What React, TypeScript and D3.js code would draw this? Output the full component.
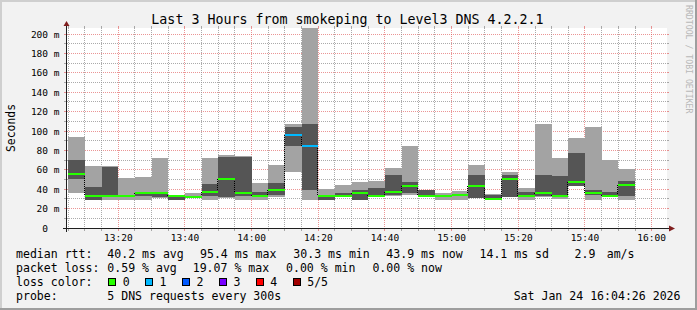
import React from "react";
import * as d3 from "d3";

// ---------- data ----------
const barEndTimes = ["13:10","13:15","13:20","13:25","13:30","13:35","13:40","13:45","13:50","13:55","14:00","14:05","14:10","14:15","14:20","14:25","14:30","14:35","14:40","14:45","14:50","14:55","15:00","15:05","15:10","15:15","15:20","15:25","15:30","15:35","15:40","15:45","15:50","15:55"];
const pingMin = [35.7,28.5,28.5,28.5,28.5,31.0,28.5,31.5,28.5,31.0,28.5,28.5,31.6,57.4,28.5,28.5,31.6,28.5,31.6,32.6,34.0,32.0,28.5,28.5,30.8,28.5,32.0,28.5,32.3,29.6,43.0,28.5,31.5,28.5];
const ping2 = [50.9,28.6,32.0,31.8,33.0,31.6,28.7,31.8,32.5,32.0,32.5,31.8,33.7,84.2,39.5,28.6,32.0,28.6,32.0,34.4,36.0,32.2,32.0,33.0,30.9,28.8,32.3,31.6,32.6,32.0,43.2,33.7,31.6,32.6];
const pingMed = [55.3,32.6,32.6,32.6,35.7,35.6,32.5,32.2,36.7,51.0,35.7,32.6,38.8,95.4,85.0,32.6,32.6,35.7,32.6,36.8,43.0,32.6,32.6,33.7,43.0,30.3,50.9,32.6,35.7,32.6,47.1,35.7,32.6,43.9];
const ping4 = [70.4,42.6,62.5,33.4,37.0,36.5,33.0,32.8,45.8,72.9,73.3,36.8,46.0,104.5,107.4,34.4,36.2,39.5,41.2,55.0,47.0,39.2,33.2,34.5,54.3,34.4,55.0,37.5,55.0,54.0,77.7,39.5,36.8,48.8];
const pingMax = [94.2,64.3,63.5,51.9,52.9,72.4,33.5,35.9,72.5,75.6,74.0,46.0,64.5,107.2,215,40.4,44.7,47.8,48.8,62.2,84.2,39.5,35.7,38.5,65.3,34.6,58.0,41.6,107.6,72.5,93.1,104.5,70.4,61.2];
const lossCount = [0,0,0,0,0,0,0,0,0,0,0,0,0,1,1,0,0,0,0,0,0,0,0,0,0,0,0,0,0,0,0,0,0,0];

const yTickValues = [0,20,40,60,80,100,120,140,160,180,200];
const xTickLabels = ["13:20","13:40","14:00","14:20","14:40","15:00","15:20","15:40","16:00"];
const lossLabels = ["0","1","2","3","4","5/5"];
const lossColors = ["#26ff00","#00b8ff","#0059ff","#7800ff","#ff0000","#a10000"];

const titleText = "Last 3 Hours from smokeping to Level3 DNS 4.2.2.1";
const rttItems = ["median rtt:", "40.2 ms avg", "95.4 ms max", "30.3 ms min", "43.9 ms now", "14.1 ms sd", "2.9", "am/s"];
const lossItems = ["packet loss:", "0.59 % avg", "19.07 % max", "0.00 % min", "0.00 % now"];
const probeItems = ["probe:", "5 DNS requests every 300s"];
const stampText = "Sat Jan 24 16:04:26 2026";

// ---------- layout ----------
const W = 697, H = 310;
const X0 = 67, X1 = 667, YB = 228, YT = 28;
const MONO = "'DejaVu Sans Mono', monospace";
const parseT = (s: string) => { const [h, m] = s.split(":").map(Number); return h * 60 + m; };
const tStart = 13 * 60 + 4 + 36 / 60;
const tEnd = tStart + 180;

export default function App() {
  const x = d3.scaleLinear().domain([tStart, tEnd]).range([X0, X1]);
  const yMax = 206.2;
  const y = d3.scaleLinear().domain([0, yMax]).range([YB, YT]);
  const yc = (v: number) => Math.round(y(Math.min(v, yMax)));

  const bars = barEndTimes.map((s, i) => {
    const t1 = parseT(s);
    const t0 = Math.max(t1 - 5, tStart);
    return { i, px0: Math.round(x(t0)), px1: Math.round(x(t1)) };
  });

  const gridTimes = d3.range(Math.ceil(tStart / 5) * 5, tEnd, 5);
  const hGrid = d3.range(10, yMax, 10);
  const minorCol = "rgba(143,143,143,0.75)";
  const majorCol = "rgba(222,79,79,0.6)";

  const rttX = [16, 107.3, 200, 293.3, 386.3, 479.5, 574.5, 606.7];
  const lossX = [16, 107.3, 192.7, 286, 372.4];

  return (
    <svg width={W} height={H} style={{ position: "absolute", left: 0, top: 0 }} xmlns="http://www.w3.org/2000/svg">
      <defs>
        <clipPath id="plot"><rect x={X0} y={YT} width={X1 - X0} height={YB - YT} /></clipPath>
      </defs>
      <rect x={0} y={0} width={W} height={H} fill="#f2f2f2" />
      {/* shade frame */}
      <rect x={0} y={0} width={W} height={2} fill="#cfcfcf" />
      <rect x={0} y={0} width={2} height={H} fill="#cfcfcf" />
      <rect x={0} y={H - 2} width={W} height={2} fill="#9e9e9e" />
      <rect x={W - 2} y={0} width={2} height={H} fill="#9e9e9e" />
      {/* canvas */}
      <rect x={X0} y={YT} width={X1 - X0} height={YB - YT} fill="#ffffff" />

      {/* grid */}
      <g shapeRendering="crispEdges">
        {hGrid.map(v => {
          const yy = Math.floor(y(v)) + 0.5;
          const major = v % 20 === 0;
          const c = major ? majorCol : minorCol;
          return (
            <g key={"h" + v}>
              <line x1={X0} x2={X1} y1={yy} y2={yy} stroke={c} strokeDasharray="1,1" />
              <line x1={X0 - 3} x2={X0} y1={yy} y2={yy} stroke={c} />
              <line x1={X1} x2={X1 + 2} y1={yy} y2={yy} stroke={c} />
            </g>
          );
        })}
        {gridTimes.map(t => {
          const xx = Math.floor(x(t)) + 0.5;
          const major = t % 20 === 0;
          const c = major ? majorCol : minorCol;
          return (
            <g key={"v" + t}>
              <line x1={xx} x2={xx} y1={YT} y2={YB} stroke={c} strokeDasharray="1,1" />
              <line x1={xx} x2={xx} y1={YB} y2={YB + 3} stroke={c} />
              <line x1={xx} x2={xx} y1={YT - 2} y2={YT} stroke={c} />
            </g>
          );
        })}
      </g>

      {/* smoke */}
      <g clipPath="url(#plot)" shapeRendering="crispEdges">
        {bars.map(b => (
          <rect key={"l" + b.i} x={b.px0} width={b.px1 - b.px0} y={yc(pingMax[b.i])} height={yc(pingMin[b.i]) - yc(pingMax[b.i])} fill="#a3a3a3" />
        ))}
        {bars.map(b => (
          <rect key={"d" + b.i} x={b.px0} width={b.px1 - b.px0} y={yc(ping4[b.i])} height={yc(ping2[b.i]) - yc(ping4[b.i])} fill="#555555" />
        ))}
        {bars.slice(1).map(b => {
          const a = yc(pingMed[b.i - 1]), c = yc(pingMed[b.i]);
          return <line key={"s" + b.i} x1={b.px0 - 0.5} x2={b.px0 - 0.5} y1={Math.min(a, c)} y2={Math.max(a, c)} stroke="#000" strokeDasharray="1,1" />;
        })}
        {bars.map(b => (
          <rect key={"m" + b.i} x={b.px0} width={b.px1 - b.px0} y={yc(pingMed[b.i]) - 1} height={2} fill={lossColors[lossCount[b.i]]} />
        ))}
      </g>

      {/* axes */}
      <line x1={X0 - 4} x2={X1 + 4} y1={YB + 0.5} y2={YB + 0.5} stroke="#1f1f1f" strokeWidth={1} shapeRendering="crispEdges" />
      <line x1={X0 - 0.5} x2={X0 - 0.5} y1={YB + 4} y2={YT - 4} stroke="#1f1f1f" strokeWidth={1} shapeRendering="crispEdges" />
      <polygon points={`${X1 + 2},${YB - 2.5} ${X1 + 2},${YB + 3.5} ${X1 + 8},${YB + 0.5}`} fill="#801f1f" />
      <polygon points={`${X0 - 3.5},${YT - 2} ${X0 + 2.5},${YT - 2} ${X0 - 0.5},${YT - 7}`} fill="#801f1f" />

      {/* y labels */}
      <g fontFamily={MONO} fontSize={9.5} fill="#000">
        {yTickValues.map(v => (
          <text key={"yl" + v} x={v === 0 ? 48.1 : 59.5} y={Math.floor(y(v)) + 3.8} textAnchor="end">{v === 0 ? "0" : `${v} m`}</text>
        ))}
        {xTickLabels.map(s => (
          <text key={"xl" + s} x={x(parseT(s))} y={240.7} textAnchor="middle">{s}</text>
        ))}
      </g>

      {/* title */}
      <text x={347.5} y={23.5} textAnchor="middle" fontFamily={MONO} fontSize={13.3} fill="#000">{titleText}</text>
      {/* y axis title */}
      <text transform="translate(14.6,128) rotate(-90)" textAnchor="middle" fontFamily={MONO} fontSize={11.4} fill="#000">Seconds</text>
      {/* watermark */}
      <text transform="translate(685.5,5) rotate(90)" fontFamily={MONO} fontSize={8.2} fill="#b8b8b8">RRDTOOL / TOBI OETIKER</text>

      {/* legend */}
      <g fontFamily={MONO} fontSize={11.55} fill="#000" style={{ whiteSpace: "pre" }}>
        {rttItems.map((s, i) => <text key={"r" + i} x={rttX[i]} y={258.3}>{s}</text>)}
        {lossItems.map((s, i) => <text key={"p" + i} x={lossX[i]} y={272.2}>{s}</text>)}
        <text x={16} y={285.6}>loss color:</text>
        {lossLabels.map((s, i) => (
          <g key={"lc" + i}>
            <rect x={108.5 + i * 36.9} y={278.5} width={7} height={7} fill={lossColors[i]} stroke="#000" strokeWidth={1} shapeRendering="crispEdges" />
            <text x={122.7 + i * 36.9} y={285.6}>{s}</text>
          </g>
        ))}
        <text x={16} y={299.8}>{probeItems[0]}</text>
        <text x={107.3} y={299.8}>{probeItems[1]}</text>
        <text x={680.5} y={299.8} textAnchor="end">{stampText}</text>
      </g>
    </svg>
  );
}
